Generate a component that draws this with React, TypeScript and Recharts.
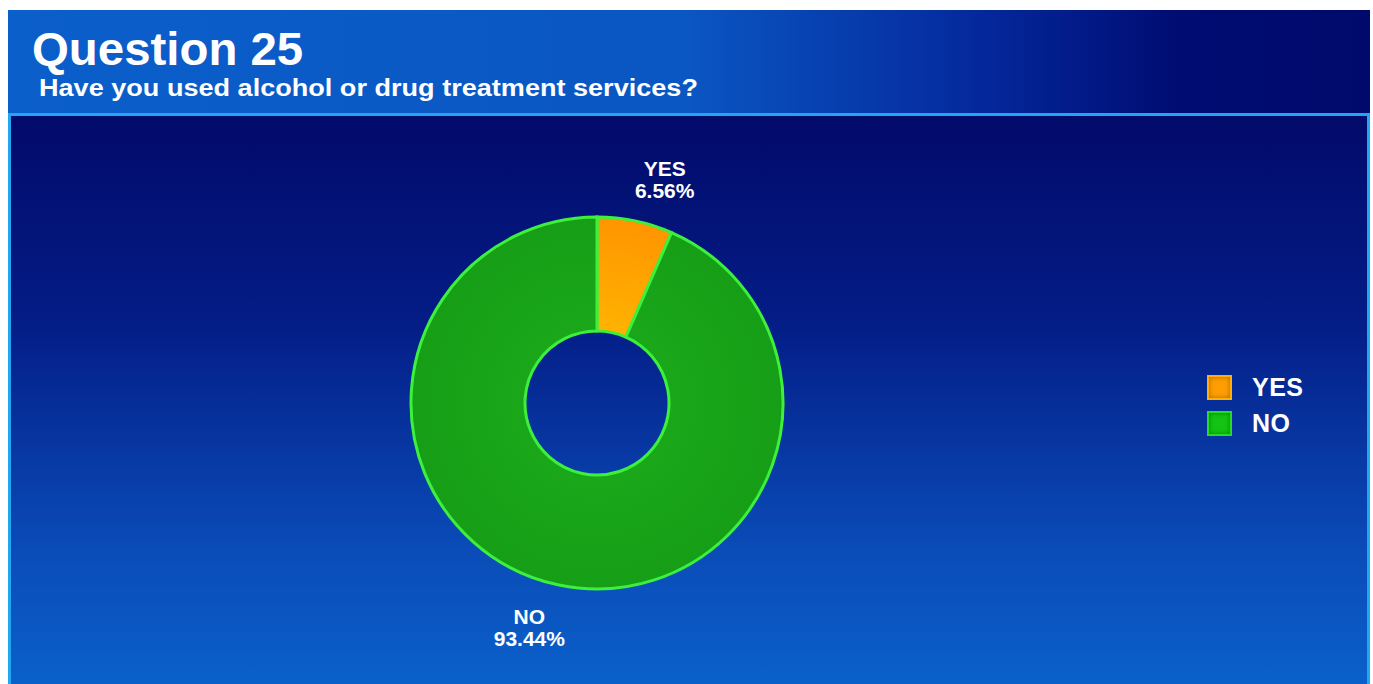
import React from "react";
import { PieChart, Pie, Cell, Legend } from "recharts";

const categories = ["YES", "NO"];
const percentages = [6.56, 93.44];
const sliceColors = ["url(#gradYes)", "url(#gradNo)"];
const legendColors = ["#ff9e00", "#14c414"];
const titleText = "Question 25";
const subtitleText = "Have you used alcohol or drug treatment services?";

const data = categories.map((name, i) => ({ name, value: percentages[i] }));

const FONT = "'Liberation Sans', Arial, Helvetica, sans-serif";
const CX = 592;
const CY = 398;

const renderLabel = (props: any) => {
  const { cx, cy, midAngle, outerRadius, name, value } = props;
  const RAD = Math.PI / 180;
  const r = outerRadius + 48;
  const a = midAngle - 5;
  const x = cx + r * Math.cos(-a * RAD);
  const y = cy + r * Math.sin(-a * RAD);
  return (
    <text
      x={x}
      y={y}
      textAnchor="middle"
      fill="#ffffff"
      fontFamily={FONT}
      fontWeight="bold"
      fontSize={21}
    >
      <tspan x={x} dy={-3}>{name}</tspan>
      <tspan x={x} dy={22}>{value.toFixed(2)}%</tspan>
    </text>
  );
};

const LegendContent = () => (
  <div style={{ fontFamily: FONT }}>
    {categories.map((c, i) => (
      <div
        key={c}
        style={{ display: "flex", alignItems: "center", height: 36 }}
      >
        <div
          style={{
            width: 21,
            height: 21,
            background: legendColors[i],
            border: `2px solid ${i === 0 ? "#ffb000" : "#22dd22"}`,
            boxShadow: "inset 0 0 5px rgba(0,0,0,0.35)",
          }}
        />
        <span
          style={{
            marginLeft: 20,
            color: "#ffffff",
            fontWeight: "bold",
            fontSize: 25,
            letterSpacing: 0.5,
          }}
        >
          {c}
        </span>
      </div>
    ))}
  </div>
);

export default function App() {
  return (
    <div
      style={{
        position: "fixed",
        left: 0,
        top: 0,
        width: 1373,
        height: 684,
        background: "#ffffff",
        overflow: "hidden",
      }}
    >
      <div
        style={{
          position: "absolute",
          left: 8,
          top: 10,
          width: 1362,
          height: 106,
          background:
            "linear-gradient(to right, #0b5fcb 0%, #0a56c2 50%, #04279b 72%, #000c72 86%, #000a6c 100%)",
        }}
      >
        <div
          style={{
            position: "absolute",
            left: 24,
            top: 14,
            color: "#ffffff",
            fontFamily: FONT,
            fontWeight: "bold",
            fontSize: 46,
            lineHeight: "50px",
            whiteSpace: "nowrap",
            transform: "scaleX(1.03)",
            transformOrigin: "left center",
          }}
        >
          {titleText}
        </div>
        <div
          style={{
            position: "absolute",
            left: 31,
            top: 64,
            color: "#ffffff",
            fontFamily: FONT,
            fontWeight: "bold",
            fontSize: 23,
            lineHeight: "28px",
            whiteSpace: "nowrap",
            transform: "scaleX(1.177)",
            transformOrigin: "left center",
          }}
        >
          {subtitleText}
        </div>
      </div>
      <div
        style={{
          position: "absolute",
          left: 8,
          top: 113,
          width: 1356,
          height: 580,
          border: "3px solid #22a6f2",
          background:
            "linear-gradient(to bottom, #020a6a 0%, #041c86 35%, #0a4cb8 75%, #0a62cc 100%)",
        }}
      />
      <div style={{ position: "absolute", left: 0, top: 0 }}>
        <PieChart width={1373} height={684}>
          <defs>
            <radialGradient
              id="gradYes"
              gradientUnits="userSpaceOnUse"
              cx={CX + 5}
              cy={CY + 5}
              r={190}
            >
              <stop offset="35%" stopColor="#ffb400" />
              <stop offset="100%" stopColor="#ff9400" />
            </radialGradient>
            <radialGradient
              id="gradNo"
              gradientUnits="userSpaceOnUse"
              cx={CX + 5}
              cy={CY + 5}
              r={190}
            >
              <stop offset="35%" stopColor="#1aa81a" />
              <stop offset="100%" stopColor="#169e16" />
            </radialGradient>
          </defs>
          <Pie
            data={data}
            dataKey="value"
            nameKey="name"
            cx={CX}
            cy={CY}
            innerRadius={72}
            outerRadius={186}
            startAngle={90}
            endAngle={-270}
            stroke="#3cf03c"
            strokeWidth={3}
            label={renderLabel}
            labelLine={false}
            isAnimationActive={false}
          >
            {data.map((d, i) => (
              <Cell key={d.name} fill={sliceColors[i]} />
            ))}
          </Pie>
          <Legend
            content={<LegendContent />}
            wrapperStyle={{ left: 1207, top: 369, width: 140 }}
          />
        </PieChart>
      </div>
    </div>
  );
}
